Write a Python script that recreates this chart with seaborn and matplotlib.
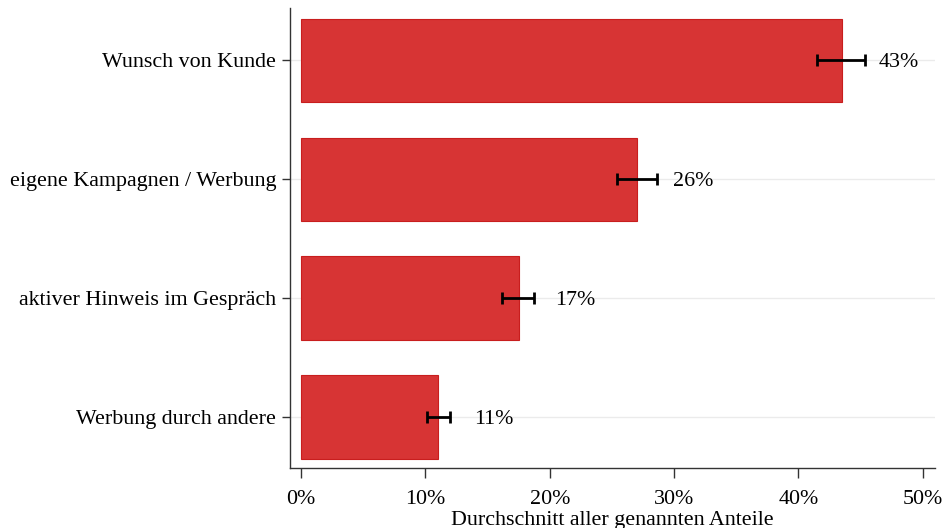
import matplotlib
matplotlib.use('Agg')
import numpy as np
import pandas as pd
import seaborn as sns
from matplotlib import pyplot as plt
import matplotlib.ticker as mtick

categories = ['Wunsch von Kunde', 'eigene Kampagnen / Werbung',
              'aktiver Hinweis im Gespräch', 'Werbung durch andere']
means = [43.5, 27.0, 17.5, 11.0]
ci_low = [41.5, 25.4, 16.2, 10.1]
ci_high = [45.4, 28.6, 18.7, 12.0]
labels = ['43%', '26%', '17%', '11%']

sns.set_style('white')
plt.rcParams['font.family'] = ['Liberation Serif', 'DejaVu Serif']
plt.rcParams['text.color'] = 'black'
plt.rcParams['xtick.labelcolor'] = 'black'
plt.rcParams['ytick.labelcolor'] = 'black'
plt.rcParams['axes.labelcolor'] = 'black'

df = pd.DataFrame({'cat': categories, 'mean': means})

fig = plt.figure(figsize=(9.43, 5.28), dpi=100)
ax = fig.add_axes([0.3075, 0.1136, 0.684, 0.8714])

sns.barplot(data=df, x='mean', y='cat', orient='h', color='#d73434',
            edgecolor='#c81e1e', linewidth=0.8, width=0.7, saturation=1,
            errorbar=None, ax=ax, zorder=2)

ypos = np.arange(len(categories))
lo = np.array(means) - np.array(ci_low)
hi = np.array(ci_high) - np.array(means)
ax.errorbar(means, ypos, xerr=[lo, hi], fmt='none', ecolor='black',
            elinewidth=2, capsize=4, capthick=2, zorder=3)
for y, x, lab in zip(ypos, means, labels):
    ax.text(x + 2.95, y, lab, va='center_baseline', ha='left', fontsize=15.8)

for y in ypos:
    ax.axhline(y, color='#ebebeb', lw=1, zorder=0)

ax.set_xlim(-0.9, 51)
ax.set_ylim(3.43, -0.44)
ax.set_xticks([0, 10, 20, 30, 40, 50])
ax.xaxis.set_major_formatter(mtick.FuncFormatter(lambda v, _: f'{v:.0f}%'))
ax.set_xlabel('Durchschnitt aller genannten Anteile', fontsize=15.8, labelpad=1)
ax.set_ylabel('')
ax.tick_params(axis='y', labelsize=15.8, length=6, width=1, color='#333333',
               direction='out', left=True, pad=4)
ax.tick_params(axis='x', labelsize=15.8, length=7, width=1, color='#333333',
               direction='out', bottom=True, pad=9)
for s in ['top', 'right']:
    ax.spines[s].set_visible(False)
for s in ['left', 'bottom']:
    ax.spines[s].set_color('#333333')
    ax.spines[s].set_linewidth(1)

fig.savefig('out.png', dpi=100)
